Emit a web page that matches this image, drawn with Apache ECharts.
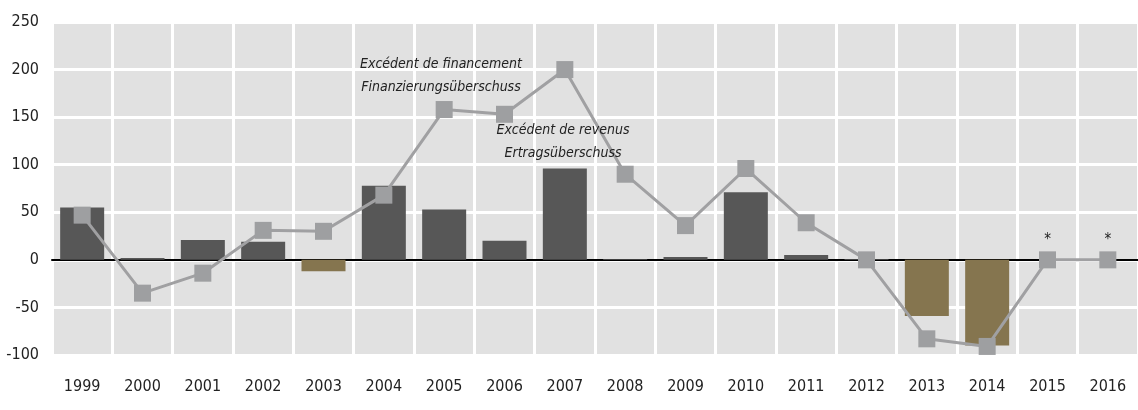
<!DOCTYPE html>
<html>
<head>
<meta charset="utf-8">
<script src="https://cdn.jsdelivr.net/npm/echarts@6/dist/echarts.min.js"></script>
<style>
  html, body { margin: 0; padding: 0; background: #fff; }
  #chart { width: 1138px; height: 410px; }
</style>
</head>
<body>
<div id="chart"></div>
<script>
// annees
var years = ['1999', '2000', '2001', '2002', '2003', '2004', '2005', '2006', '2007',
  '2008', '2009', '2010', '2011', '2012', '2013', '2014', '2015', '2016']
// excedent de revenus (barres)
var revenus = [55, 2, 21, 19, -12, 78, 53, 20, 96, 1, 3, 71, 5, 1, -59, -90, null, null]
// excedent de financement (ligne)
var financement = [47, -35, -14, 31, 30, 68, 158, 153, 200, 90, 36, 96, 39, 0, -83, -91, 0, 0]
// annees estimees
var estimated = ['2015', '2016']

var font = '"Liberation Sans Narrow", "DejaVu Sans Condensed", "Roboto Condensed", "Liberation Sans", sans-serif'

var lineData = financement.map(function (v, i) {
  if (estimated.indexOf(years[i]) >= 0) {
    return {
      value: v,
      label: { show: true, position: 'top', distance: 4, formatter: '*', color: '#222', fontSize: 15 }
    }
  }
  return v
})

var chart = echarts.init(document.getElementById('chart'))
chart.setOption({
  animation: false,
  textStyle: { fontFamily: font },
  grid: {
    left: 52,
    top: 22,
    width: 1098,
    bottom: 55,
    show: true,
    backgroundColor: '#e1e1e1',
    borderWidth: 0
  },
  xAxis: {
    type: 'category',
    data: years,
    axisTick: { show: false },
    axisLine: { onZero: true, lineStyle: { color: '#000', width: 2 } },
    axisLabel: { color: '#222', fontSize: 16, margin: 24, fontFamily: font },
    splitLine: { show: true, lineStyle: { color: '#fff', width: 3 } }
  },
  yAxis: {
    type: 'value',
    min: -100,
    max: 250,
    interval: 50,
    axisLine: { show: false },
    axisTick: { show: false },
    axisLabel: { color: '#222', fontSize: 16, margin: 13, fontFamily: font },
    splitLine: { lineStyle: { color: '#fff', width: 3 } }
  },
  graphic: [
    {
      type: 'text', x: 441, y: 53, z: 10,
      style: {
        text: 'Excédent de financement\nFinanzierungsüberschuss',
        font: 'italic 14px ' + font,
        fill: '#222', align: 'center', lineHeight: 23
      }
    },
    {
      type: 'text', x: 563, y: 119, z: 10,
      style: {
        text: 'Excédent de revenus\nErtragsüberschuss',
        font: 'italic 14px ' + font,
        fill: '#222', align: 'center', lineHeight: 23
      }
    }
  ],
  series: [
    {
      name: 'Excédent de revenus',
      type: 'bar',
      data: revenus,
      barWidth: 44,
      itemStyle: {
        color: function (p) {
          return p.value < 0 ? '#85754f' : '#575757'
        }
      }
    },
    {
      name: 'Excédent de financement',
      type: 'line',
      data: lineData,
      z: 5,
      symbol: 'rect',
      symbolSize: 17,
      lineStyle: { color: '#a0a0a2', width: 3 },
      itemStyle: { color: '#9e9fa1' }
    }
  ]
})
</script>
</body>
</html>
